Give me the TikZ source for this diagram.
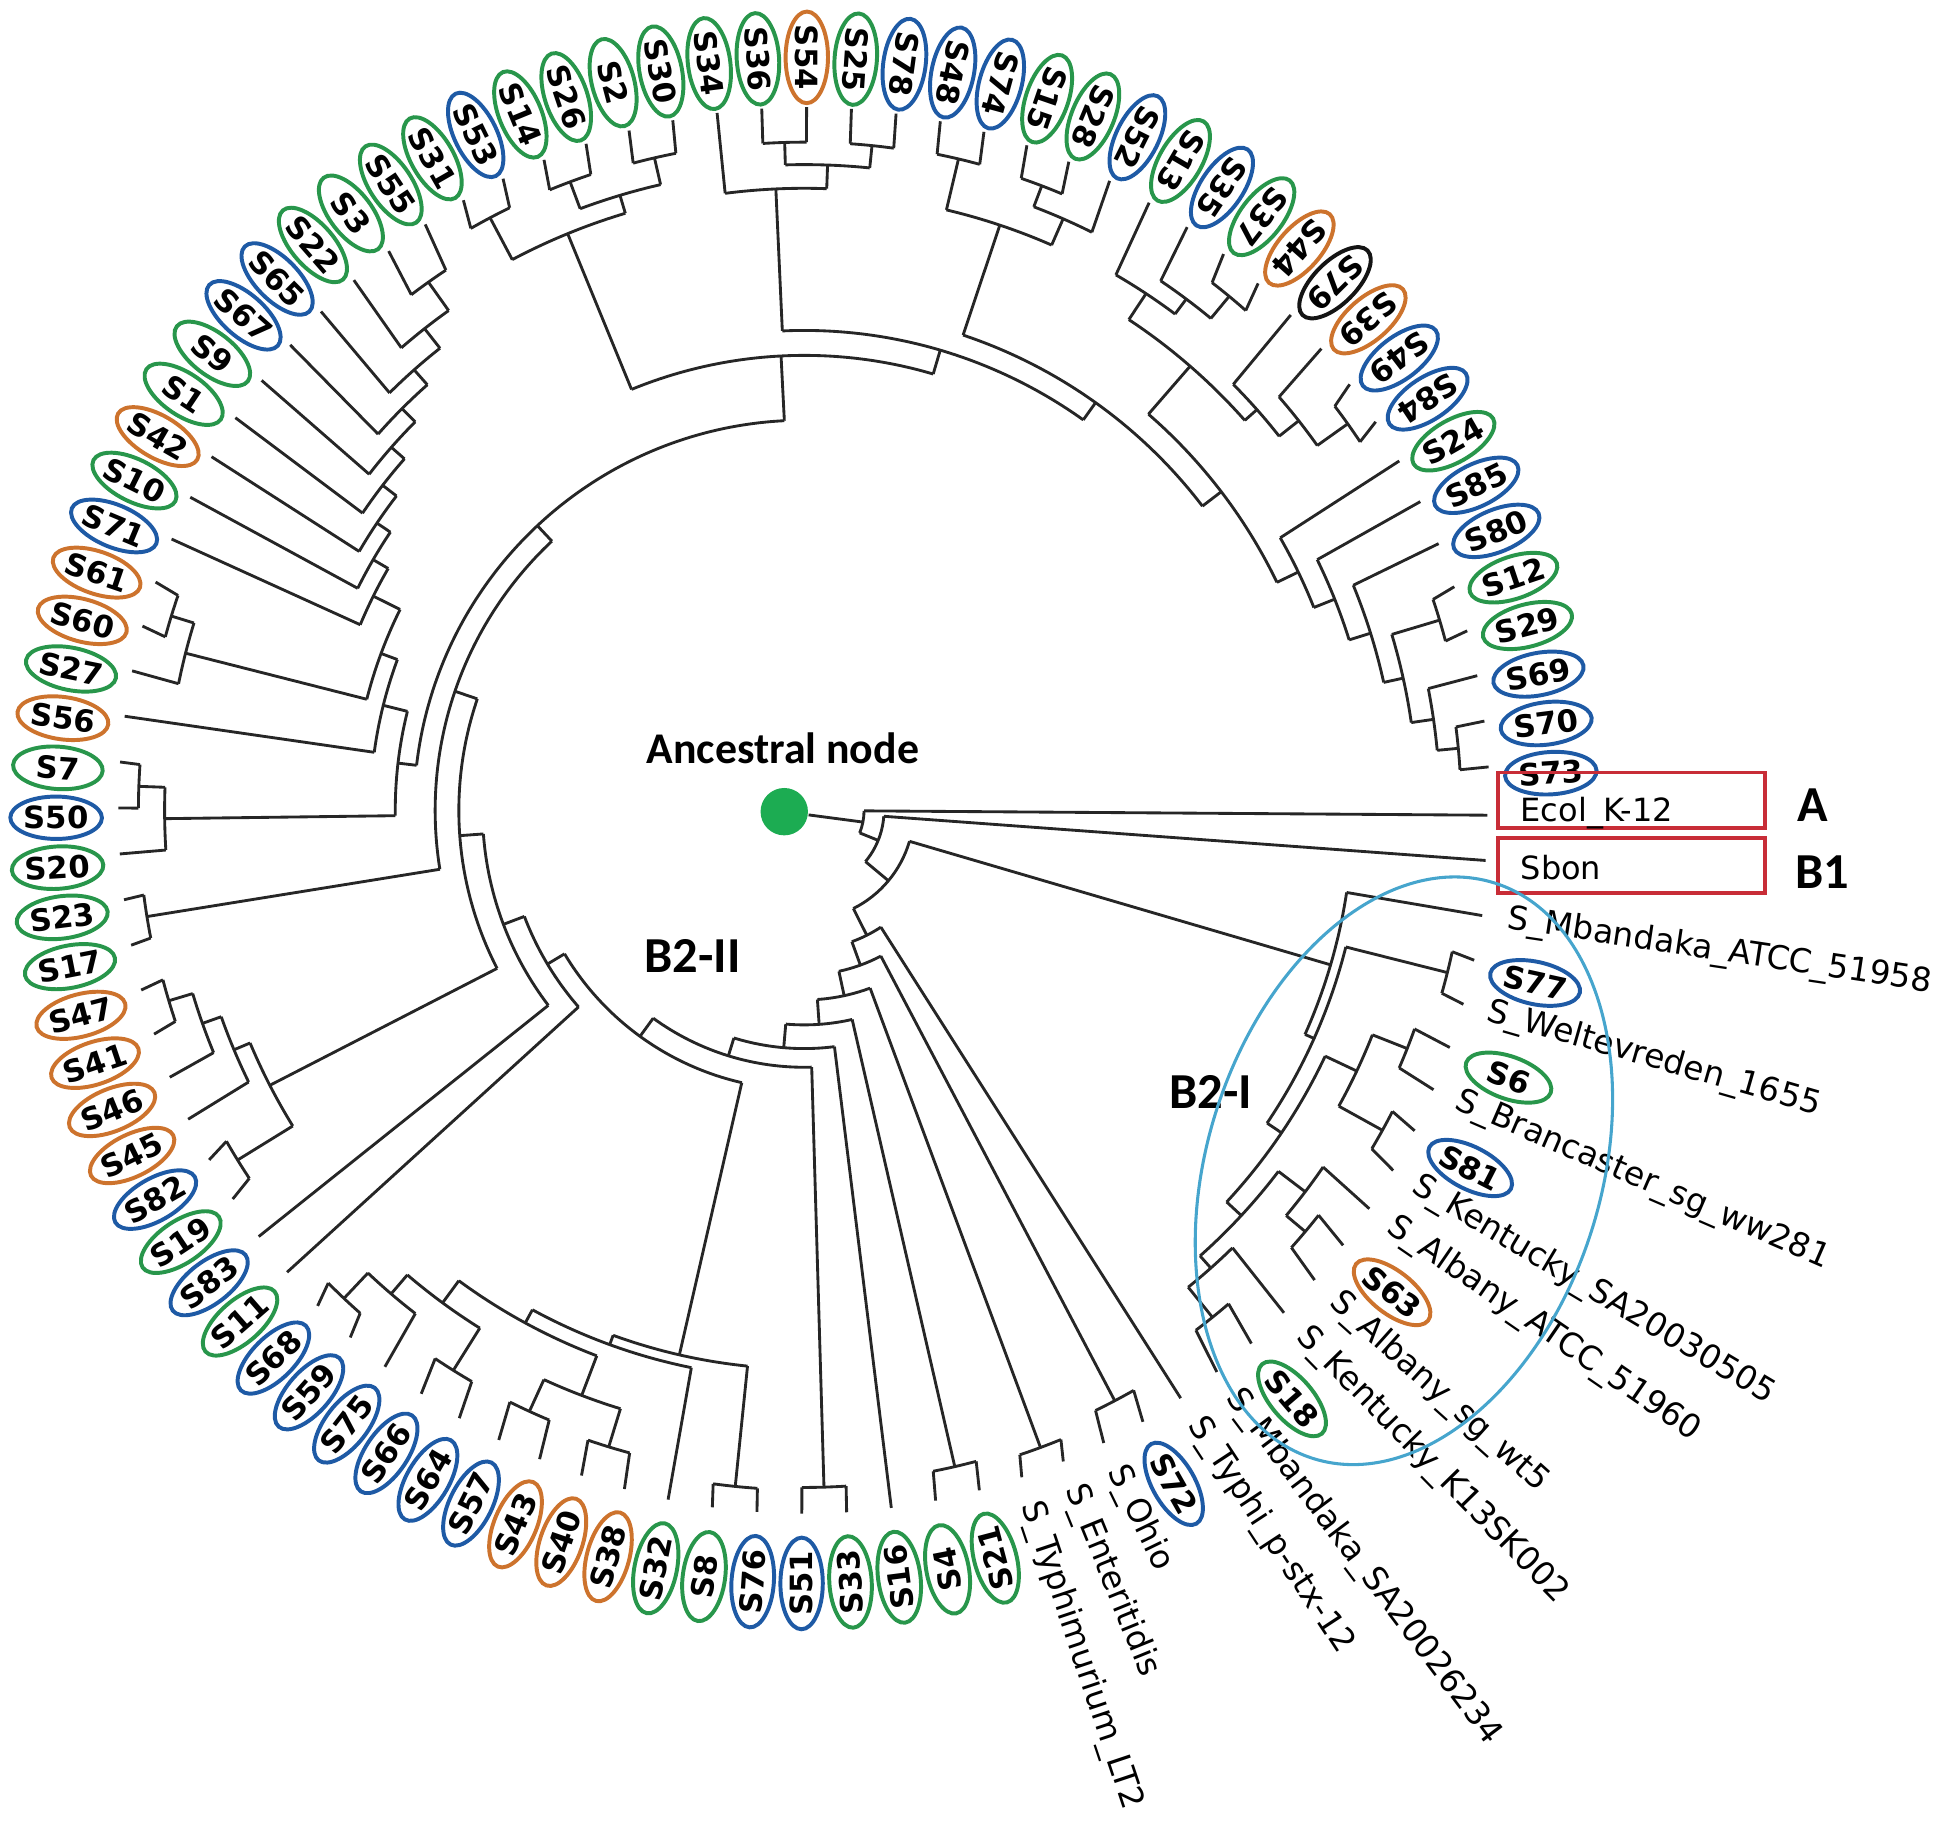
\documentclass[tikz,border=0pt]{standalone}
\usepackage{fontspec}
\setmainfont{DejaVu Sans}
\newfontfamily\annfont{Carlito}
\usetikzlibrary{shapes.geometric}

\definecolor{ovgreen}{RGB}{40,150,75}
\definecolor{ovorange}{RGB}{205,115,45}
\definecolor{ovblue}{RGB}{30,90,165}
\definecolor{ovblack}{RGB}{20,20,20}
\definecolor{dotgreen}{RGB}{28,172,82}
\definecolor{boxred}{RGB}{200,45,55}
\definecolor{ringblue}{RGB}{70,165,205}

%% one clade of the round tree: name, radius (px), children
\newcommand{\clade}[3]{%
  \gdef\cmin{1000}\gdef\cmax{-1000}%
  \foreach \chd in {#3}{%
    \pgfmathsetmacro\cang{\csname ang-\chd\endcsname}%
    \pgfmathsetmacro\ctmp{min(\cmin,\cang)}\xdef\cmin{\ctmp}%
    \pgfmathsetmacro\ctmp{max(\cmax,\cang)}\xdef\cmax{\ctmp}%
  }%
  \pgfmathsetmacro\cmid{(\cmin+\cmax)/2}%
  \expandafter\xdef\csname ang-#1\endcsname{\cmid}%
  \pgfmathsetmacro\crad{#2/100}%
  \coordinate (#1) at ([shift={(\cmid:\crad cm)}]O);
  \draw[branch] ([shift={(\cmin:\crad cm)}]O)
    arc[start angle=\cmin, end angle=\cmax, radius=\crad cm];
  \foreach \chd in {#3}{%
    \pgfmathsetmacro\cang{\csname ang-\chd\endcsname}%
    \draw[branch] ([shift={(\cang:\crad cm)}]O) -- (\chd);
  }%
}

\begin{document}
\begin{tikzpicture}
[branch/.style={line width=0.65pt, black!85},
 oval/.style={ellipse, draw, line width=0.9pt, inner sep=0pt,
   minimum width=0.72cm, minimum height=0.34cm,
   font=\bfseries\fontsize{7}{8}\selectfont},
 leafname/.style={anchor=west, inner sep=0pt, font=\fontsize{7.5}{9}\selectfont},
 redbox/.style={draw=boxred, line width=0.8pt, minimum width=2.14cm,
   minimum height=0.445cm, inner sep=0pt, anchor=north west},
 boxtext/.style={anchor=west, inner sep=0pt, font=\fontsize{7.3}{9}\selectfont},
 tag/.style={font=\annfont\bfseries\fontsize{11.5}{13}\selectfont, inner sep=0pt},
 ancdot/.style={circle, fill=dotgreen, minimum size=0.38cm, inner sep=0pt},
 b2ring/.style={ellipse, draw=ringblue, line width=0.7pt, minimum width=4.84cm,
   minimum height=3.16cm, inner sep=0pt}]
\useasboundingbox (0,0) rectangle (15.68,-14.81);
\coordinate (O) at (6.45,-6.50);
\coordinate (ring) at (6.45,-6.58);

%% leaves: angle and tip of every branch end
\foreach \id [count=\i] in {ecol, sbon, mbatcc, S77, welt, S6, bran, S81, kensa,
  albatcc, S63, albsg, kenk13, S18, mbsa, typhi, S72, ohio, ent, tym, S21, S4,
  S16, S33, S51, S76, S8, S32, S38, S40, S43, S57, S64, S66, S75, S59, S68, S11,
  S83, S19, S82, S45, S46, S41, S47, S17, S23, S20, S50, S7, S56, S27, S60, S61,
  S71, S10, S42, S1, S9, S67, S65, S22, S3, S55, S31, S53, S14, S26, S2, S30,
  S34, S36, S54, S25, S78, S48, S74, S15, S28, S52, S13, S35, S37, S44, S79,
  S39, S49, S84, S24, S85, S80, S12, S29, S69, S70, S73} {
  \pgfmathsetmacro\lang{\i==1 ? -0.4 : (\i==2 ? -4.2 :
    (\i<22 ? -8.6-3.7*(\i-3) : -75.2-3.75*(\i-21)))}
  \expandafter\xdef\csname ang-\id\endcsname{\lang}
  \ifnum\i<3
    \coordinate (\id) at ([shift={(\lang:5.48cm)}]O);
  \else
    \coordinate (\id) at ([shift={(\lang:5.50cm and 5.64cm)}]O);
  \fi
}

%% coloured ovals
\foreach \id/\col in {S73/ovblue, S70/ovblue, S69/ovblue, S29/ovgreen,
  S12/ovgreen, S80/ovblue, S85/ovblue, S24/ovgreen, S84/ovblue, S49/ovblue,
  S39/ovorange, S79/ovblack, S44/ovorange, S37/ovgreen, S35/ovblue, S13/ovgreen,
  S52/ovblue, S28/ovgreen, S15/ovgreen, S74/ovblue, S48/ovblue, S78/ovblue,
  S25/ovgreen, S54/ovorange, S36/ovgreen, S34/ovgreen, S30/ovgreen, S2/ovgreen,
  S26/ovgreen, S14/ovgreen, S53/ovblue, S31/ovgreen, S55/ovgreen, S3/ovgreen,
  S22/ovgreen, S65/ovblue, S67/ovblue, S9/ovgreen, S1/ovgreen, S42/ovorange,
  S10/ovgreen, S71/ovblue, S61/ovorange, S60/ovorange, S27/ovgreen,
  S56/ovorange, S7/ovgreen, S50/ovblue, S20/ovgreen, S23/ovgreen, S17/ovgreen,
  S47/ovorange, S41/ovorange, S46/ovorange, S45/ovorange, S82/ovblue,
  S19/ovgreen, S83/ovblue, S11/ovgreen, S68/ovblue, S59/ovblue, S75/ovblue,
  S66/ovblue, S64/ovblue, S57/ovblue, S43/ovorange, S40/ovorange, S38/ovorange,
  S32/ovgreen, S8/ovgreen, S76/ovblue, S51/ovblue, S33/ovgreen, S16/ovgreen,
  S4/ovgreen, S21/ovgreen, S72/ovblue, S18/ovgreen, S63/ovorange, S81/ovblue,
  S6/ovgreen, S77/ovblue} {
  \pgfmathsetmacro\lang{\csname ang-\id\endcsname}
  \pgfmathsetmacro\rot{or(\lang>-73,\lang<-330) ? \lang : \lang+180}
  \node[oval, draw=\col, rotate=\rot] (lab-\id) at ([shift={(\lang:6.00cm and 6.12cm)}]ring) {\id};
}

%% named leaves
\foreach \id/\txt in {mbatcc/S\_Mbandaka\_ATCC\_51958, welt/S\_Weltevreden\_1655,
  bran/S\_Brancaster\_sg\_ww281, kensa/S\_Kentucky\_SA20030505,
  albatcc/S\_Albany\_ATCC\_51960, albsg/S\_Albany\_sg\_wt5,
  kenk13/S\_Kentucky\_K13SK002, mbsa/S\_Mbandaka\_SA20026234,
  typhi/S\_Typhi\_p-stx-12, ohio/S\_Ohio, ent/S\_Enteritidis,
  tym/S\_Typhimurium\_LT2} {
  \pgfmathsetmacro\lang{\csname ang-\id\endcsname}
  \node[leafname, rotate=\lang] (lab-\id) at ([shift={(\lang:5.70cm and 5.85cm)}]O) {\txt};
}

%% clades, from the tips inwards
% right ladder
\clade{d70}{527}{S70,S73}
\clade{d69}{510}{S69,d70}
\clade{d12}{532}{S12,S29}
\clade{d3}{492}{d12,d69}
\clade{d2}{476}{S80,d3}
\clade{d1}{458}{S85,d2}
\clade{dd}{440}{S24,d1}
\clade{u37}{535}{S37,S44}
\clade{u35}{512}{S35,u37}
\clade{u1}{497}{S13,u35}
\clade{u49}{535}{S49,S84}
\clade{u39}{505}{S39,u49}
\clade{u2}{485}{S79,u39}
\clade{uc}{472}{u1,u2}
\clade{k9}{421}{uc,dd}
% top
\clade{m48}{537}{S48,S74}
\clade{m15}{536}{S15,S28}
\clade{m52}{518}{m15,S52}
\clade{m2}{495}{m48,m52}
\clade{k8}{402}{m2,k9}
\clade{t36}{536}{S36,S54}
\clade{t25}{536}{S25,S78}
\clade{t3625}{518}{t36,t25}
\clade{t1}{499}{S34,t3625}
\clade{k7}{385}{t1,k8}
\clade{t31}{538}{S31,S53}
\clade{t14}{538}{S14,S26}
\clade{t2}{537}{S2,S30}
\clade{t142}{515}{t14,t2}
\clade{t0}{500}{t31,t142}
\clade{k6}{365}{t0,k7}
% left
\clade{l8}{520}{S3,S55}
\clade{l7}{492}{S22,l8}
\clade{l6}{472}{S65,l7}
\clade{l5}{456}{S67,l6}
\clade{l4}{441}{S9,l5}
\clade{l3}{427}{S1,l4}
\clade{l2}{413}{S42,l3}
\clade{l1}{400}{S10,l2}
\clade{l0}{386}{S71,l1}
\clade{g60}{531}{S60,S61}
\clade{g27}{512}{S27,g60}
\clade{rr}{362}{l0,g27}
\clade{qq}{348}{S56,rr}
\clade{g50}{534}{S50,S7}
\clade{g7}{513}{S20,g50}
\clade{pp}{328}{g7,qq}
\clade{k5}{313}{pp,k6}
\clade{g23}{534}{S17,S23}
\clade{k4}{296}{g23,k5}
\clade{g47a}{532}{S41,S47}
\clade{g46}{512}{S46,g47a}
\clade{g45}{496}{S45,g46}
\clade{g19}{534}{S19,S82}
\clade{g47}{482}{g19,g45}
\clade{k3}{277}{g47,k4}
\clade{k2}{258}{S83,k3}
\clade{k1}{240}{S11,k2}
% bottom left
\clade{b68}{538}{S68,S59}
\clade{b75}{510}{b68,S75}
\clade{b66}{530}{S66,S64}
\clade{bl1}{490}{b75,b66}
\clade{b57}{530}{S57,S43}
\clade{b40}{534}{S40,S38}
\clade{bl2}{502}{b57,b40}
\clade{bl}{468}{bl1,bl2}
\clade{xa}{456}{bl,S32}
\clade{x8}{545}{S76,S8}
\clade{xx}{448}{xa,x8}
\clade{k0}{224}{xx,k1}
% bottom chain
\clade{h33}{543}{S33,S51}
\clade{c9}{206}{h33,k0}
\clade{c8}{191}{S16,c9}
\clade{h21}{540}{S21,S4}
\clade{c7}{172}{h21,c8}
\clade{h19}{545}{ent,tym}
\clade{c6}{152}{h19,c7}
\clade{h17}{535}{S72,ohio}
\clade{c5}{132}{h17,c6}
\clade{c4}{112}{typhi,c5}
% B2-I
\clade{e77}{532}{S77,welt}
\clade{e6}{520}{S6,bran}
\clade{e81}{530}{S81,kensa}
\clade{e4}{490}{e6,e81}
\clade{e63}{525}{S63,albsg}
\clade{e3a}{505}{albatcc,e63}
\clade{e18}{522}{S18,mbsa}
\clade{e3b}{491}{kenk13,e18}
\clade{e3}{478}{e3a,e3b}
\clade{e2}{462}{e4,e3}
\clade{e1}{448}{e77,e2}
\clade{b2i}{440}{mbatcc,e1}
% root
\clade{c3}{88}{b2i,c4}
\clade{c2}{64}{sbon,c3}
\clade{c1}{48}{ecol,c2}

%% ancestral node
\node[ancdot] (anc) at (6.29,-6.51) {};
\draw[branch] (anc) -- (c1);
\node[tag, font=\annfont\bfseries\fontsize{10}{12}\selectfont] (anclab) at (6.28,-6.005) {Ancestral node};

%% boxes and group tags
\node[redbox] (boxA) at (12.00,-6.18) {};
\node[redbox] (boxB) at (12.00,-6.705) {};
\node[boxtext] (lab-ecol) at (12.19,-6.52) {Ecol\_K-12};
\node[boxtext] (lab-sbon) at (12.19,-6.96) {Sbon};
\node[tag] (tagA) at (14.54,-6.46) {A};
\node[tag] (tagB1) at (14.615,-6.996) {B1};
\node[tag] (tagB2II) at (5.555,-7.67) {B2-II};
\node[tag] (tagB2I) at (9.71,-8.76) {B2-I};
\node[b2ring, rotate=72.5] (b2ring) at (11.26,-9.39) {};
\end{tikzpicture}
\end{document}
